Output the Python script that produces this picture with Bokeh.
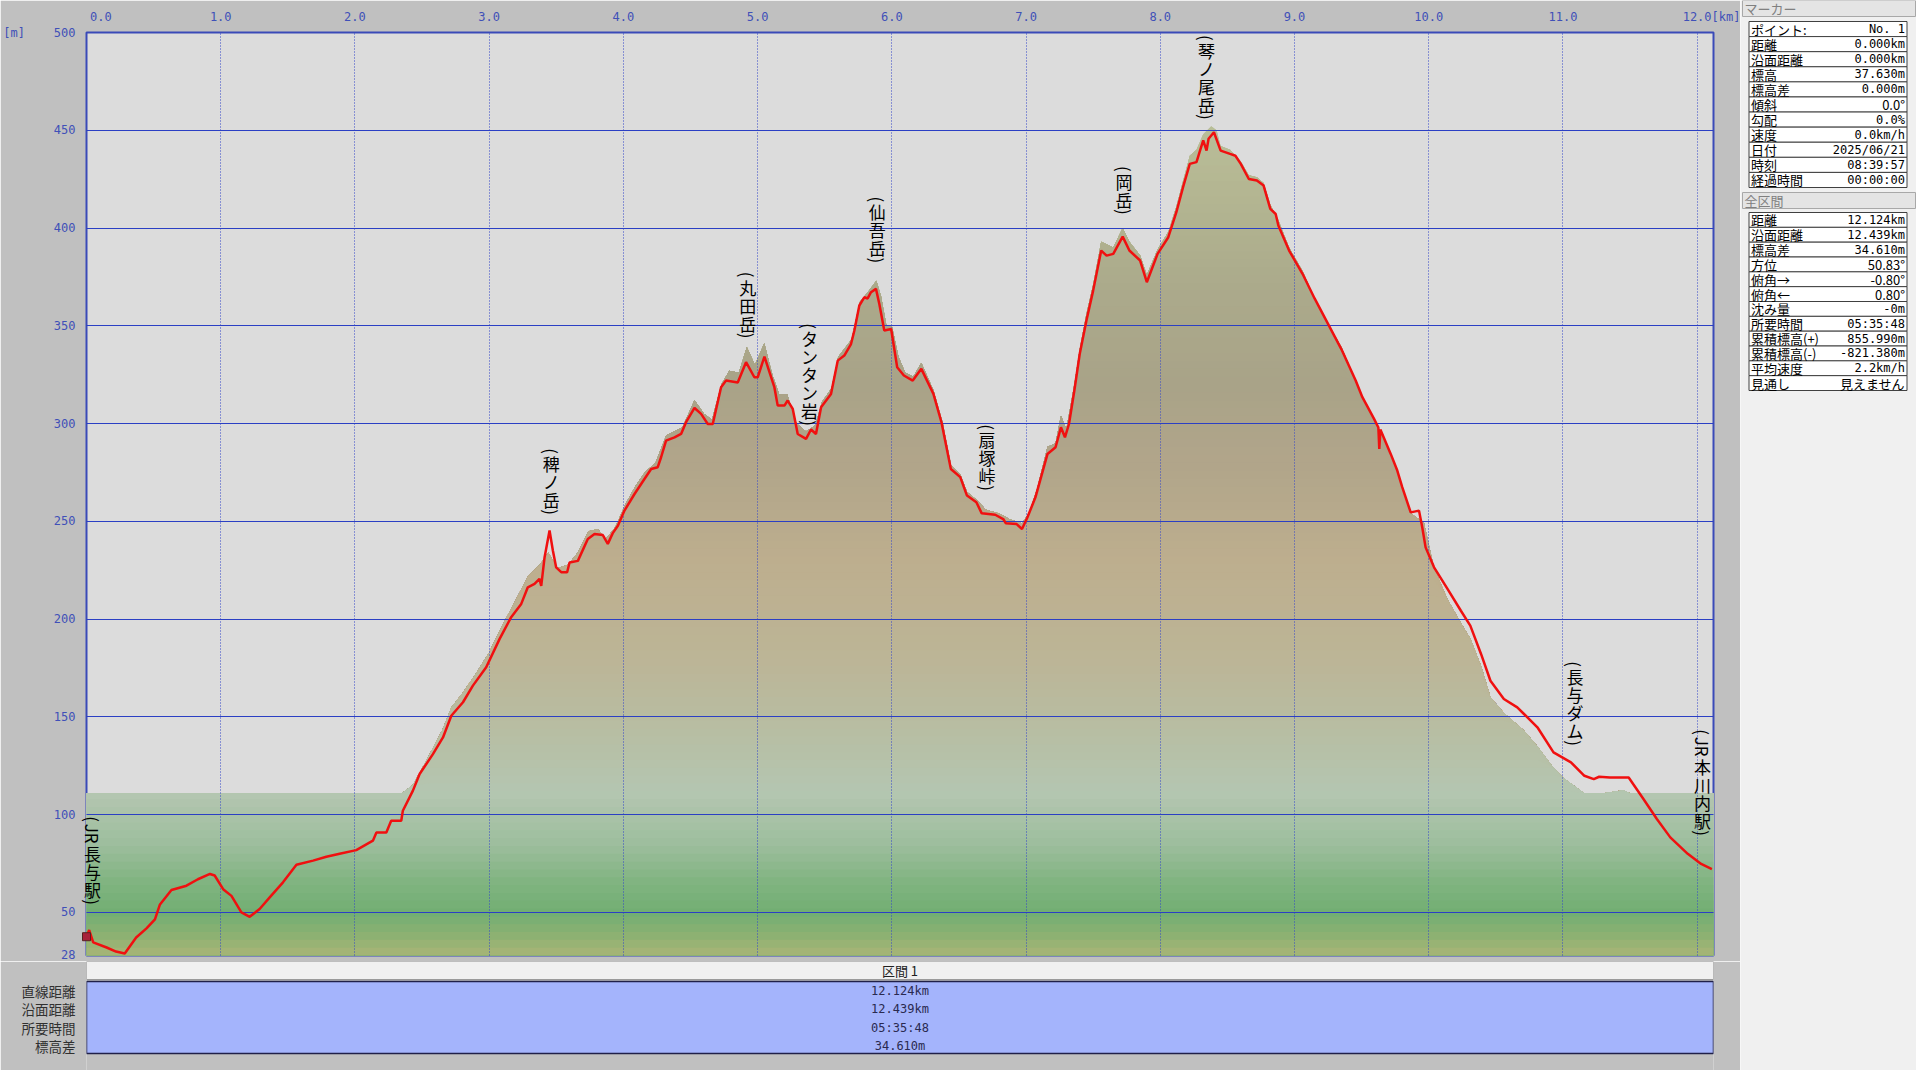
import math
import numpy as np
from bokeh.plotting import figure
from bokeh.models import Range1d, FixedTicker, ColumnDataSource
from bokeh.layouts import row, column
from bokeh.embed import file_html
from bokeh.resources import INLINE
from bokeh.core.properties import value

# ------------------------------------------------------------------ data
# GPS track: (distance km, elevation m)
track_profile = [
    (0.00, 37.6), (0.02, 41.0), (0.05, 34.7), (0.15, 32.1), (0.22, 30.0), (0.285, 29.0),
    (0.37, 37.2), (0.447, 41.9), (0.51, 46.5), (0.546, 53.9), (0.633, 61.5), (0.745, 63.7),
    (0.83, 67.0), (0.92, 69.7), (0.955, 68.9), (1.018, 61.9), (1.08, 58.5), (1.154, 50.0),
    (1.216, 47.8), (1.29, 51.8), (1.365, 57.7), (1.464, 65.4), (1.564, 74.4), (1.688, 76.5),
    (1.787, 78.5), (1.886, 80.0), (2.01, 81.9), (2.134, 86.7), (2.16, 90.9), (2.234, 90.9),
    (2.27, 96.9), (2.345, 96.9), (2.357, 102.0), (2.432, 112.3), (2.482, 120.8), (2.581, 131.0),
    (2.656, 139.5), (2.718, 150.6), (2.805, 157.5), (2.879, 166.0), (2.978, 175.4), (3.078, 189.9),
    (3.164, 201.0), (3.239, 207.8), (3.288, 216.3), (3.338, 218.0), (3.375, 220.6), (3.388, 217.0),
    (3.413, 231.7), (3.450, 245.3), (3.475, 235.0), (3.499, 226.5), (3.537, 224.0), (3.581, 224.0),
    (3.599, 229.0), (3.661, 229.8), (3.735, 241.0), (3.785, 243.6), (3.847, 243.0), (3.884, 238.5),
    (3.921, 244.0), (3.959, 247.8), (4.008, 255.5), (4.083, 264.0), (4.157, 271.7), (4.207, 276.8),
    (4.256, 277.7), (4.281, 282.8), (4.318, 291.3), (4.381, 293.0), (4.430, 294.7), (4.467, 300.7),
    (4.530, 308.0), (4.579, 305.0), (4.629, 299.8), (4.666, 299.8), (4.728, 318.6), (4.765, 322.0),
    (4.852, 321.0), (4.914, 331.4), (4.976, 323.7), (5.001, 323.7), (5.051, 334.3), (5.125, 318.6),
    (5.150, 309.2), (5.200, 309.2), (5.224, 311.8), (5.262, 307.5), (5.299, 294.7), (5.361, 292.2),
    (5.398, 297.0), (5.435, 294.7), (5.473, 308.4), (5.547, 315.2), (5.597, 332.2), (5.646, 334.8),
    (5.696, 340.7), (5.721, 347.6), (5.758, 360.4), (5.795, 364.6), (5.820, 364.0), (5.845, 367.2),
    (5.882, 368.9), (5.907, 361.2), (5.944, 347.6), (5.995, 348.4), (6.04, 328.8), (6.09, 324.6),
    (6.156, 322.0), (6.22, 328.0), (6.31, 315.2), (6.37, 300.7), (6.44, 276.8), (6.51, 272.6),
    (6.56, 263.2), (6.63, 259.8), (6.67, 254.1), (6.77, 253.4), (6.83, 251.2), (6.85, 249.0),
    (6.93, 248.6), (6.97, 246.1), (7.01, 252.0), (7.07, 262.3), (7.16, 284.5), (7.22, 287.9),
    (7.26, 298.1), (7.29, 293.0), (7.32, 299.8), (7.36, 316.9), (7.40, 335.6), (7.45, 352.7),
    (7.50, 368.0), (7.56, 388.5), (7.60, 385.9), (7.65, 386.8), (7.72, 395.6), (7.77, 388.5),
    (7.85, 383.4), (7.90, 372.3), (7.98, 386.8), (8.06, 395.3), (8.12, 408.1), (8.17, 420.9),
    (8.22, 432.8), (8.27, 433.7), (8.32, 444.8), (8.345, 439.6), (8.36, 445.7), (8.40, 449.0),
    (8.45, 439.6), (8.52, 437.9), (8.56, 437.0), (8.60, 432.8), (8.66, 425.1), (8.72, 424.3),
    (8.77, 421.7), (8.82, 409.8), (8.86, 407.2), (8.88, 401.3), (8.96, 388.5), (9.06, 376.6),
    (9.15, 364.0), (9.25, 351.0), (9.35, 338.0), (9.456, 322.0), (9.506, 313.5), (9.593, 302.4),
    (9.625, 298.0), (9.632, 287.0), (9.64, 297.0), (9.717, 284.5), (9.766, 276.0), (9.803, 267.5),
    (9.866, 254.6), (9.928, 255.5), (9.952, 247.0), (9.977, 236.7), (10.04, 226.5), (10.14, 215.5),
    (10.24, 204.3), (10.31, 196.7), (10.39, 182.2), (10.46, 168.5), (10.56, 159.2), (10.66, 154.9),
    (10.71, 151.5), (10.81, 144.7), (10.93, 131.9), (11.06, 126.8), (11.16, 119.9), (11.23, 118.2),
    (11.27, 119.4), (11.35, 119.0), (11.49, 119.0), (11.60, 108.0), (11.70, 97.8), (11.80, 88.4),
    (11.93, 80.0), (12.03, 74.8), (12.11, 72.2),
]

# terrain (DEM) profile used for the shaded area: (distance km, elevation m)
ground_profile = [
    (0.0, 38), (1.0, 65), (2.0, 82), (2.35, 102), (2.43, 115), (2.55, 130), (2.65, 143), (2.72, 155),
    (2.8, 162), (2.9, 172), (3.0, 183), (3.1, 197), (3.2, 210), (3.29, 222), (3.38, 228), (3.44, 234),
    (3.51, 226), (3.59, 228), (3.66, 234), (3.74, 245), (3.81, 246), (3.87, 241), (3.94, 247),
    (4.01, 258), (4.09, 268), (4.16, 275), (4.24, 280), (4.32, 294), (4.44, 298), (4.53, 312),
    (4.60, 305), (4.66, 302), (4.73, 320), (4.79, 327), (4.86, 326), (4.92, 339), (4.98, 330),
    (5.05, 341), (5.11, 325), (5.16, 315), (5.22, 315), (5.29, 300), (5.36, 296), (5.43, 299),
    (5.48, 311), (5.55, 318), (5.60, 334), (5.70, 343), (5.76, 362), (5.82, 367), (5.885, 373),
    (5.92, 365), (5.96, 350), (6.00, 350), (6.05, 334), (6.10, 326), (6.16, 324), (6.22, 331),
    (6.31, 317), (6.38, 300), (6.44, 279), (6.51, 274), (6.56, 265), (6.63, 261), (6.70, 256),
    (6.80, 254), (6.88, 251), (6.97, 249), (7.02, 254), (7.08, 266), (7.16, 288), (7.22, 290),
    (7.26, 304), (7.30, 297), (7.36, 320), (7.40, 338), (7.45, 356), (7.50, 371), (7.56, 393),
    (7.65, 390), (7.72, 400), (7.77, 393), (7.85, 386), (7.90, 376), (7.98, 389), (8.06, 398),
    (8.12, 411), (8.17, 424), (8.22, 437), (8.27, 440), (8.32, 448), (8.38, 452), (8.42, 450),
    (8.45, 442), (8.52, 440), (8.60, 434), (8.66, 427), (8.72, 426), (8.77, 423), (8.82, 412),
    (8.88, 404), (8.96, 390), (9.06, 378), (9.15, 364), (9.25, 351), (9.35, 339), (9.456, 322),
    (9.506, 313), (9.593, 302), (9.63, 297), (9.717, 284), (9.766, 276), (9.803, 267), (9.866, 254),
    (9.93, 251), (9.965, 249), (10.04, 226), (10.14, 210), (10.24, 198), (10.31, 190), (10.39, 176),
    (10.46, 160), (10.56, 152), (10.66, 146), (10.71, 143), (10.81, 135), (10.93, 124), (11.00, 119),
    (11.06, 116), (11.16, 111), (11.30, 109), (11.45, 112.5), (11.50, 106), (11.70, 95), (12.00, 78),
    (12.122, 70),
]
band_top_m = 111.0          # flat valley band drawn across the whole width

x_max_km = 12.122
y_min_m, y_max_m = 28, 500
x_ticks = [0, 1, 2, 3, 4, 5, 6, 7, 8, 9, 10, 11, 12]
x_tick_labels = ["0.0", "1.0", "2.0", "3.0", "4.0", "5.0", "6.0", "7.0", "8.0", "9.0", "10.0", "11.0", "12.0"]
x_unit = "[km]"
y_ticks = [28, 50, 100, 150, 200, 250, 300, 350, 400, 450, 500]
y_unit = "[m]"

peak_names = ["（JR長与駅）", "（稗ノ岳）", "（丸田岳）", "（タンタン岩）", "（仙吾岳）",
              "（扇塚峠）", "（岡岳）", "（琴ノ尾岳）", "（長与ダム）", "（JR本川内駅）"]
peak_km = [0.045, 3.462, 4.927, 5.386, 5.891, 6.71, 7.73, 8.345, 11.09, 12.04]
peak_top_m = [99.5, 287.7, 378.0, 351.7, 416.4, 300.0, 432.0, 499.0, 178.8, 144.0]

marker_title = "マーカー"
marker_labels = ["ポイント:", "距離", "沿面距離", "標高", "標高差", "傾斜", "勾配", "速度", "日付", "時刻", "経過時間"]
marker_values = ["No. 1", "0.000km", "0.000km", "37.630m", "0.000m", "0.0°", "0.0%", "0.0km/h",
                 "2025/06/21", "08:39:57", "00:00:00"]
total_title = "全区間"
total_labels = ["距離", "沿面距離", "標高差", "方位", "俯角→", "俯角←", "沈み量", "所要時間",
                "累積標高(+)", "累積標高(-)", "平均速度", "見通し"]
total_values = ["12.124km", "12.439km", "34.610m", "50.83°", "-0.80°", "0.80°", "-0m", "05:35:48",
                "855.990m", "-821.380m", "2.2km/h", "見えません"]

section_title = "区間 1"
section_labels = ["直線距離", "沿面距離", "所要時間", "標高差"]
section_values = ["12.124km", "12.439km", "05:35:48", "34.610m"]

track_km = [k for k, _ in track_profile]
track_m = [m for _, m in track_profile]
ground_km = [k for k, _ in ground_profile]
ground_m = [m for _, m in ground_profile]

# ------------------------------------------------------------------ style
AXIS_COL = "#3f50b8"
CJK = "Noto Sans CJK JP"
MONO = "DejaVu Sans Mono"
NB = "\u00a0"
gradient_stops = [(28, "#a9b577"), (38, "#8db172"), (50, "#72ae73"), (65, "#80b480"),
                  (85, "#9dbe9d"), (111, "#b4c6b1"), (140, "#b7bea4"), (180, "#bcb596"),
                  (230, "#bdae8e"), (280, "#b1a58a"), (320, "#a9a388"), (370, "#abaa8b"),
                  (420, "#b4b692"), (460, "#bac09a")]


def hex2rgb(h):
    return [int(h[i:i + 2], 16) for i in (1, 3, 5)]


def color_at(v):
    for (a, ca), (b, cb) in zip(gradient_stops[:-1], gradient_stops[1:]):
        if v <= b:
            t = max(0.0, min(1.0, (v - a) / (b - a)))
            A, B = hex2rgb(ca), hex2rgb(cb)
            return "#%02x%02x%02x" % tuple(int(round(A[i] + (B[i] - A[i]) * t)) for i in range(3))
    return gradient_stops[-1][1]


FRAME_L, FRAME_T, FRAME_R, FRAME_B = 85, 32, 1713, 955
MAIN_W = 1740
MAIN_H = 961
TABLE_H = 1070 - MAIN_H

# ------------------------------------------------------------------ main chart
p = figure(width=MAIN_W, height=MAIN_H,
           x_range=Range1d(0, x_max_km), y_range=Range1d(y_min_m, y_max_m),
           x_axis_location="above", output_backend="svg", toolbar_location=None,
           min_border_left=FRAME_L, min_border_right=MAIN_W - FRAME_R,
           min_border_top=FRAME_T, min_border_bottom=MAIN_H - FRAME_B)
p.background_fill_color = "#dcdcdc"
p.border_fill_color = "#c0c0c0"
p.outline_line_color = "#3a4ab8"
p.outline_line_width = 2

# tick labels (the unit labels share the rows of the end ticks)
xt = x_ticks + [x_max_km]
xov = {t: lab for t, lab in zip(x_ticks, x_tick_labels)}
xov[x_ticks[0]] = NB * 4 + x_tick_labels[0]
xov[x_max_km] = NB * 4 + x_unit
p.xaxis.ticker = FixedTicker(ticks=xt)
p.xaxis.major_label_overrides = xov
p.yaxis.ticker = FixedTicker(ticks=y_ticks)
p.yaxis.major_label_overrides = {y_max_m: y_unit + NB * 4 + str(y_max_m)}
for ax in (p.xaxis[0], p.yaxis[0]):
    ax.axis_line_color = None
    ax.major_tick_line_color = None
    ax.minor_tick_line_color = None
    ax.major_tick_out = 0
    ax.major_tick_in = 0
    ax.major_label_text_font = MONO
    ax.major_label_text_font_size = "12px"
    ax.major_label_text_color = AXIS_COL
p.xaxis.major_label_standoff = 9
p.yaxis.major_label_standoff = 11

p.xgrid.ticker = FixedTicker(ticks=x_ticks)
p.xgrid.grid_line_color = "#3345c8"
p.xgrid.grid_line_dash = "1 2"
p.xgrid.level = "guide"
p.ygrid.ticker = FixedTicker(ticks=y_ticks)
p.ygrid.grid_line_color = "#2b3fc4"
p.ygrid.grid_line_width = 1
p.ygrid.level = "guide"

# gradient-shaded terrain: painter's order, highest band first
g_km = np.array(ground_km, dtype=float)
g_top = np.maximum(np.array(ground_m, dtype=float), band_top_m)
step = 4.0
band_tops = np.arange(y_min_m + step, g_top.max() + step + 0.1, step)
for b in band_tops[::-1]:
    p.varea(x=g_km, y1=y_min_m, y2=np.minimum(g_top, b), fill_color=color_at(b - step / 2),
            fill_alpha=1.0)

p.line(track_km, track_m, line_color="#f01010", line_width=2.5, level="annotation")
p.scatter(x=[track_km[0]], y=[track_m[0]], marker="square", size=8,
          fill_color="#a8203a", line_color="#5a2020", level="annotation")

# vertical Japanese place names
lab = dict(x=[], y=[], text=[], angle=[], yoff=[])
for name, km, top in zip(peak_names, peak_km, peak_top_m):
    tokens, buf = [], ""
    for ch in name:
        if ch.isascii() and ch.isalnum():
            buf += ch
            continue
        if buf:
            tokens.append(buf)
            buf = ""
        tokens.append(ch)
    if buf:
        tokens.append(buf)
    off = 0.0
    for tok in tokens:
        if tok in ("（", "）"):
            h, txt, ang = 7.0, "(" if tok == "（" else ")", -math.pi / 2
        elif tok.isascii():
            h, txt, ang = 11.0 * len(tok), tok, -math.pi / 2
        else:
            h, txt, ang = 18.0, tok, 0.0
        lab["x"].append(km)
        lab["y"].append(top)
        lab["text"].append(txt)
        lab["angle"].append(ang)
        lab["yoff"].append(off + h / 2)
        off += h
p.text(x="x", y="y", text="text", angle="angle", y_offset="yoff", source=ColumnDataSource(lab),
       text_font=value(CJK), text_font_size=value("17px"), text_align="center",
       text_baseline="middle", text_color="#000000", level="annotation")

# ------------------------------------------------------------------ section table (bottom)
# frame aligned with the chart frame; x units = pixels of the page
L, R = FRAME_L, FRAME_R
pt = figure(width=MAIN_W, height=TABLE_H, x_range=Range1d(L, R), y_range=Range1d(TABLE_H, 0),
            x_axis_type=None, output_backend="svg", toolbar_location=None,
            min_border_left=FRAME_L, min_border_right=MAIN_W - FRAME_R,
            min_border_top=0, min_border_bottom=0, outline_line_color=None,
            background_fill_color="#c0c0c0", border_fill_color="#c0c0c0")
pt.grid.visible = False
row_y = [29, 47, 66, 84]
pt.yaxis.ticker = FixedTicker(ticks=row_y)
pt.yaxis.major_label_overrides = {y: t for y, t in zip(row_y, section_labels)}
pt.yaxis.axis_line_color = None
pt.yaxis.major_tick_line_color = None
pt.yaxis.minor_tick_line_color = None
pt.yaxis.major_tick_out = 0
pt.yaxis.major_tick_in = 0
pt.yaxis.major_label_standoff = 11
pt.yaxis.major_label_text_font = CJK
pt.yaxis.major_label_text_font_size = "13.5px"
pt.yaxis.major_label_text_color = "#303030"

pt.quad(left=L, right=R, top=0, bottom=18, fill_color="#f0f0f0", line_color="#9a9a9a", line_width=1)
pt.quad(left=L, right=R, top=20, bottom=92, fill_color="#a4b4fc", line_color="#202048", line_width=1.5)
cx = (L + R) / 2
pt.text(x=[cx], y=[9], text=[section_title], text_font=value(CJK), text_font_size=value("13px"),
        text_align="center", text_baseline="middle", text_color="#202020")
pt.text(x=[cx] * 4, y=row_y, text=section_values, text_font=value(MONO),
        text_font_size=value("12px"), text_align="center", text_baseline="middle", text_color="#2a2a50")

# ------------------------------------------------------------------ right info panel
RW, RH = 1916 - MAIN_W, 1070
pr = figure(width=RW, height=RH, x_range=Range1d(0, RW), y_range=Range1d(RH, 0),
            x_axis_type=None, y_axis_type=None, output_backend="svg", toolbar_location=None,
            min_border=0, outline_line_color=None,
            background_fill_color="#f0f0f0", border_fill_color="#f0f0f0")


def info_table(title, head_top, head_bot, top, bot, labels, values):
    pr.quad(left=2, right=RW - 1, top=head_top, bottom=head_bot, fill_color="#e4e4e4",
            line_color="#a8a8a8", line_width=1)
    pr.text(x=[4], y=[(head_top + head_bot) / 2], text=[title], text_font=value(CJK),
            text_font_size=value("13px"), text_baseline="middle", text_color="#808080")
    n = len(labels)
    h = (bot - top) / n
    tops = [top + i * h for i in range(n)]
    pr.quad(left=8.5, right=166.5, top=tops, bottom=[t + h for t in tops], fill_color="#ffffff",
            line_color="#404040", line_width=1)
    ys = [t + h / 2 for t in tops]
    pr.text(x=[10.5] * n, y=ys, text=labels, text_font=value(CJK), text_font_size=value("13px"),
            text_baseline="middle", text_color="#000000")
    fonts = [MONO if v.isascii() else CJK for v in values]
    sizes = ["12px" if v.isascii() else "13px" for v in values]
    src = ColumnDataSource(dict(x=[164.5] * n, y=ys, t=values, f=fonts, s=sizes))
    pr.text(x="x", y="y", text="t", text_font="f", text_font_size="s", source=src,
            text_align="right", text_baseline="middle", text_color="#000000")


info_table(marker_title, 0, 16, 21, 187, marker_labels, marker_values)
info_table(total_title, 192, 208, 212, 390, total_labels, total_values)

layout = row(column(p, pt), pr)
open("out.html", "w").write(file_html(layout, INLINE))
